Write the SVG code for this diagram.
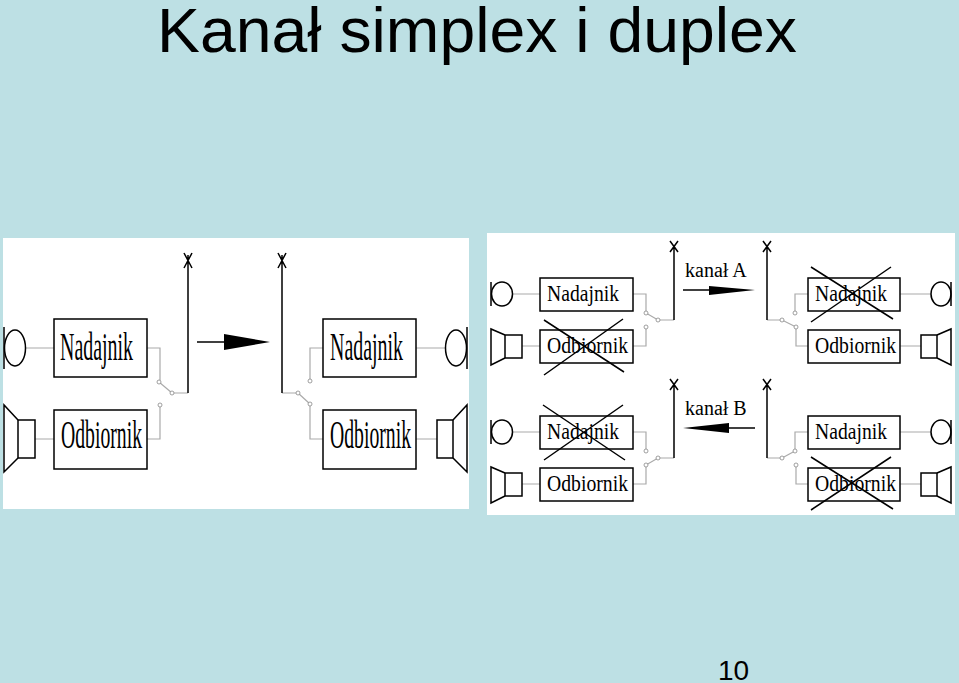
<svg xmlns="http://www.w3.org/2000/svg" width="959" height="683" viewBox="0 0 959 683">
<style>
.box{fill:#fff;stroke:#000;stroke-width:1.5}
.w{fill:none;stroke:#aaa;stroke-width:1.2}
.k{fill:none;stroke:#000;stroke-width:1.5}
.x{stroke:#000;stroke-width:1.5}
.c{fill:#fff;stroke:#888;stroke-width:0.8}
.bt{font-family:"Liberation Serif",serif;fill:#000}
.b1{font-size:40px}
.b2{font-size:23px}
</style>
<rect width="959" height="683" fill="#bde0e4"/>
<text x="157" y="52" font-family="Liberation Sans,Arial,sans-serif" font-size="63" textLength="640" lengthAdjust="spacingAndGlyphs">Kanał simplex i duplex</text>
<text x="718" y="680" font-family="Liberation Sans,Arial,sans-serif" font-size="28">10</text>

<g id="simplex">
<rect x="3" y="238" width="466" height="271" fill="#fff"/>
<g id="connectors-simplex">
<path class="w" d="M25 348H54M35 439H54M147 348H160V380M160 407V439H147M172 393H188"/>
<path class="w" d="M159 382L172 393"/>
<path class="w" d="M416 348H446M416 439H437M323 348H310V379M310 406V439H323M282 393H297"/>
<path class="w" d="M298 393L310 404"/>
<path class="k" d="M188 393V255M184 253L192 268M192 253L184 268"/>
<path class="k" d="M282 393V255M278 253L286 268M286 253L278 268"/>
<line class="x" x1="197" y1="342" x2="226" y2="342" stroke-width="2"/>
<polygon points="224,334 270,342 224,350" fill="#000"/>
<circle class="c" cx="159" cy="382" r="2"/><circle class="c" cx="172" cy="393" r="2"/><circle class="c" cx="160" cy="405" r="2"/>
<circle class="c" cx="298" cy="393" r="2"/><circle class="c" cx="310" cy="404" r="2"/><circle class="c" cx="310" cy="381" r="2"/>
</g>
<g id="s-mic-l"><path class="k" d="M4 327V369" stroke-width="2"/><ellipse class="k" cx="15" cy="348" rx="10.5" ry="18"/></g>
<g id="s-spk-l"><rect class="k" x="18" y="420" width="17" height="38"/><path class="k" d="M18 420L4 405V472L18 458" stroke-width="2"/></g>
<g id="s-nad-l"><rect class="box" x="54" y="319" width="93" height="58"/><text class="bt b1" x="60" y="360" textLength="73" lengthAdjust="spacingAndGlyphs">Nadajnik</text></g>
<g id="s-odb-l"><rect class="box" x="54" y="410" width="93" height="59"/><text class="bt b1" x="61" y="448" textLength="81" lengthAdjust="spacingAndGlyphs">Odbiornik</text></g>
<g id="s-nad-r"><rect class="box" x="323" y="319" width="93" height="58"/><text class="bt b1" x="330" y="360" textLength="73" lengthAdjust="spacingAndGlyphs">Nadajnik</text></g>
<g id="s-odb-r"><rect class="box" x="323" y="410" width="93" height="59"/><text class="bt b1" x="330" y="448" textLength="81" lengthAdjust="spacingAndGlyphs">Odbiornik</text></g>
<g id="s-mic-r"><path class="k" d="M467 327V369" stroke-width="2"/><ellipse class="k" cx="456" cy="348" rx="10.5" ry="18"/></g>
<g id="s-spk-r"><rect class="k" x="437" y="420" width="16" height="38"/><path class="k" d="M453 420L467 405V472L453 458" stroke-width="2"/></g>
</g>

<g id="duplex">
<rect x="487" y="233" width="468" height="282" fill="#fff"/>
<g id="connectors-duplex">
<path class="w" d="M513 294H540M522 346H540M633 294H646V311M646 329V346H633M658 320H674"/>
<path class="w" d="M646 313L658 320"/>
<path class="w" d="M900 294H931M900 346H921M808 294H795V311M796 329V346H808M767 320H782"/>
<path class="w" d="M782 320L796 327"/>
<path class="w" d="M513 432H540M522 484H540M633 432H646V449M646 467V484H633M658 458H674"/>
<path class="w" d="M646 465L658 458"/>
<path class="w" d="M900 432H931M900 484H921M808 432H795V449M796 467V484H808M767 458H782"/>
<path class="w" d="M782 458L795 451"/>
<path class="k" d="M674 320V245M670 241L678 252M678 241L670 252"/>
<path class="k" d="M767 320V245M763 241L771 252M771 241L763 252"/>
<path class="k" d="M674 458V383M670 379L678 390M678 379L670 390"/>
<path class="k" d="M767 458V383M763 379L771 390M771 379L763 390"/>
<line class="x" x1="683" y1="290" x2="711" y2="290"/>
<polygon points="709,286 755,290 709,295" fill="#000"/>
<line class="x" x1="727" y1="428" x2="755" y2="428"/>
<polygon points="729,423 683,428 729,433" fill="#000"/>
<text class="bt" x="685" y="277" font-size="20">kanał A</text>
<text class="bt" x="685" y="415" font-size="20">kanał B</text>
<circle class="c" cx="646" cy="313" r="2"/><circle class="c" cx="658" cy="320" r="2"/><circle class="c" cx="646" cy="327" r="2"/>
<circle class="c" cx="795" cy="313" r="2"/><circle class="c" cx="782" cy="320" r="2"/><circle class="c" cx="796" cy="327" r="2"/>
<circle class="c" cx="646" cy="451" r="2"/><circle class="c" cx="658" cy="458" r="2"/><circle class="c" cx="646" cy="465" r="2"/>
<circle class="c" cx="795" cy="451" r="2"/><circle class="c" cx="782" cy="458" r="2"/><circle class="c" cx="796" cy="465" r="2"/>
</g>
<g id="d-mic-1"><path class="k" d="M491 282V306" stroke-width="2"/><ellipse class="k" cx="502" cy="294" rx="10.5" ry="12"/></g>
<g id="d-spk-1"><rect class="k" x="505" y="335" width="17" height="23"/><path class="k" d="M505 335L491 329V365L505 358"/></g>
<g id="d-nad-1"><rect class="box" x="540" y="278" width="93" height="33"/><text class="bt b2" x="547" y="301" textLength="72" lengthAdjust="spacingAndGlyphs">Nadajnik</text></g>
<g id="d-odb-1"><rect class="box" x="540" y="330" width="93" height="33"/><text class="bt b2" x="547" y="353" textLength="81" lengthAdjust="spacingAndGlyphs">Odbiornik</text><path class="x" d="M544 320L624 372M544 375L623 319"/></g>
<g id="d-nad-2"><rect class="box" x="808" y="278" width="92" height="33"/><text class="bt b2" x="815" y="301" textLength="72" lengthAdjust="spacingAndGlyphs">Nadajnik</text><path class="x" d="M811 322L891 267M811 267L893 319"/></g>
<g id="d-odb-2"><rect class="box" x="808" y="330" width="92" height="33"/><text class="bt b2" x="815" y="353" textLength="81" lengthAdjust="spacingAndGlyphs">Odbiornik</text></g>
<g id="d-mic-2"><path class="k" d="M951 282V306" stroke-width="2"/><ellipse class="k" cx="941" cy="294" rx="10" ry="12"/></g>
<g id="d-spk-2"><rect class="k" x="921" y="335" width="16" height="23"/><path class="k" d="M937 335L951 329V365L937 358"/></g>

<g id="d-mic-3"><path class="k" d="M491 420V444" stroke-width="2"/><ellipse class="k" cx="502" cy="432" rx="10.5" ry="12"/></g>
<g id="d-spk-3"><rect class="k" x="505" y="473" width="17" height="23"/><path class="k" d="M505 473L491 467V503L505 496"/></g>
<g id="d-nad-3"><rect class="box" x="540" y="416" width="93" height="33"/><text class="bt b2" x="547" y="439" textLength="72" lengthAdjust="spacingAndGlyphs">Nadajnik</text><path class="x" d="M544 460L623 405M543 405L625 460"/></g>
<g id="d-odb-3"><rect class="box" x="540" y="468" width="93" height="33"/><text class="bt b2" x="547" y="491" textLength="81" lengthAdjust="spacingAndGlyphs">Odbiornik</text></g>
<g id="d-nad-4"><rect class="box" x="808" y="416" width="92" height="33"/><text class="bt b2" x="815" y="439" textLength="72" lengthAdjust="spacingAndGlyphs">Nadajnik</text></g>
<g id="d-odb-4"><rect class="box" x="808" y="468" width="92" height="33"/><text class="bt b2" x="815" y="491" textLength="81" lengthAdjust="spacingAndGlyphs">Odbiornik</text><path class="x" d="M811 510L891 457M811 457L893 509"/></g>
<g id="d-mic-4"><path class="k" d="M951 420V444" stroke-width="2"/><ellipse class="k" cx="941" cy="432" rx="10" ry="12"/></g>
<g id="d-spk-4"><rect class="k" x="921" y="473" width="16" height="23"/><path class="k" d="M937 473L951 467V503L937 496"/></g>
</g>
</svg>
